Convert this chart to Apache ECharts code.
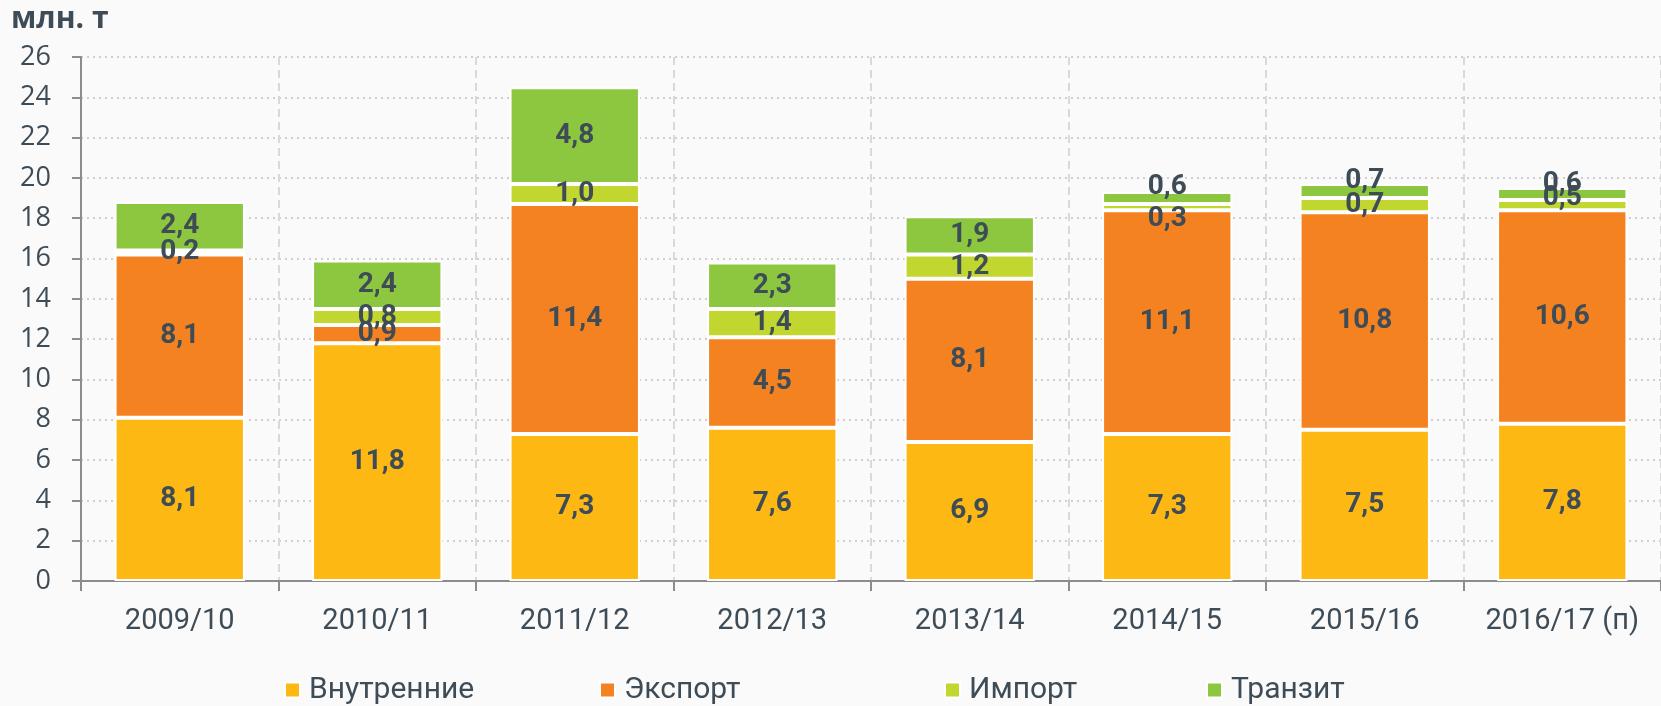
<!DOCTYPE html>
<html>
<head>
<meta charset="utf-8">
<script src="https://cdn.jsdelivr.net/npm/echarts@6/dist/echarts.min.js"></script>
<style>
html, body { margin: 0; padding: 0; background: #fafafa; }
#chart { width: 1661px; height: 706px; }
</style>
</head>
<body>
<div id="chart"></div>
<script>
var seasons = ['2009/10', '2010/11', '2011/12', '2012/13', '2013/14', '2014/15', '2015/16', '2016/17 (п)'];
var domestic = [8.1, 11.8, 7.3, 7.6, 6.9, 7.3, 7.5, 7.8];
var exports = [8.1, 0.9, 11.4, 4.5, 8.1, 11.1, 10.8, 10.6];
var imports = [0.2, 0.8, 1.0, 1.4, 1.2, 0.3, 0.7, 0.5];
var transit = [2.4, 2.4, 4.8, 2.3, 1.9, 0.6, 0.7, 0.6];
var seriesNames = ['Внутренние', 'Экспорт', 'Импорт', 'Транзит'];

var colors = ['#fdb813', '#f58220', '#c1d72f', '#8dc63f'];
var narrow = 'Roboto, "Liberation Sans", sans-serif';
var textColor = '#3e4c57';

// small label nudges where the segments are too thin (Excel moved them by hand)
var labelNudge = {
	'Импорт': [0, 0, 0, 0, 0, 12, 0, -7],
	'Транзит': [0, 0, 0, 0, 0, -11, -10, -10]
};

function fmt(v){
	return v.toFixed(1).replace('.', ',');
}

function makeSeries(name, values, color){
	var nudge = labelNudge[name];
	return {
		name: name,
		type: 'bar',
		stack: 'total',
		barWidth: '66%',
		itemStyle: { color: color, borderColor: '#ffffff', borderWidth: 2 },
		label: {
			show: true,
			position: 'inside',
			fontFamily: narrow,
			fontWeight: 'bold',
			fontSize: 28,
			color: textColor,
			formatter: function(p){ return fmt(p.value); }
		},
		data: values.map(function(v, i){
			var item = { value: v };
			if (nudge && nudge[i]) {
				item.label = { offset: [0, nudge[i]] };
			}
			return item;
		})
	};
}

var legendLeft = [284, 599, 944, 1206];

var chart = echarts.init(document.getElementById('chart'));
var option = {
	backgroundColor: '#fafafa',
	animation: false,
	title: {
		text: 'млн. т',
		left: 11,
		top: 4,
		padding: 0,
		textStyle: { fontFamily: '"Open Sans", sans-serif', fontWeight: 'bold', fontSize: 30, color: textColor }
	},
	legend: seriesNames.map(function(n, i){
		return {
			data: [n],
			left: legendLeft[i],
			top: 675,
			padding: 0,
			icon: 'rect',
			itemWidth: 15,
			itemHeight: 15,
			textStyle: { fontFamily: narrow, fontSize: 30, color: textColor, padding: [0, 0, 0, 4] }
		};
	}),
	grid: { left: 81, top: 57, width: 1589, height: 524 },
	xAxis: {
		type: 'category',
		data: seasons,
		axisLine: { lineStyle: { color: '#8c8c8c', width: 2 } },
		axisTick: { show: true, interval: 0, length: 10, lineStyle: { color: '#8c8c8c', width: 2 } },
		axisLabel: { interval: 0, fontFamily: narrow, fontSize: 29, color: textColor, margin: 26 },
		splitLine: { show: true, interval: 0, lineStyle: { color: '#d9d9d9', width: 2, type: [8, 5] } }
	},
	yAxis: {
		type: 'value',
		min: 0,
		max: 26,
		interval: 2,
		axisLine: { show: true, lineStyle: { color: '#8c8c8c', width: 2 } },
		axisTick: { show: true, length: 9, lineStyle: { color: '#8c8c8c', width: 2 } },
		axisLabel: { fontFamily: '"Open Sans", sans-serif', fontSize: 27, color: textColor, margin: 30 },
		splitLine: { show: true, lineStyle: { color: '#cfcfcf', width: 2, type: [2, 4] } }
	},
	series: [
		makeSeries(seriesNames[0], domestic, colors[0]),
		makeSeries(seriesNames[1], exports, colors[1]),
		makeSeries(seriesNames[2], imports, colors[2]),
		makeSeries(seriesNames[3], transit, colors[3])
	]
};
chart.setOption(option);
</script>
</body>
</html>
